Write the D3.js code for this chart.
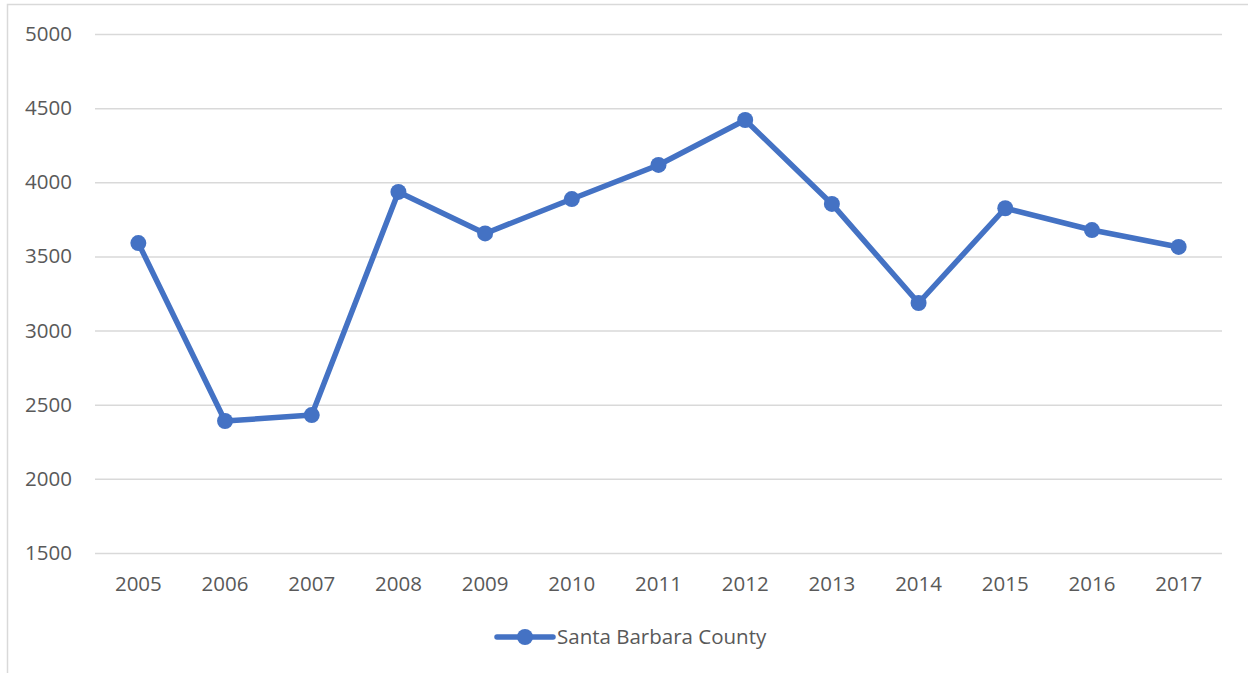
<!DOCTYPE html>
<html>
<head>
<meta charset="utf-8">
<script src="https://cdn.jsdelivr.net/npm/d3@7"></script>
<style>
  html, body { margin: 0; padding: 0; background: #fff; }
  svg { display: block; }
  svg text { font-family: "Open Sans", "Noto Sans", sans-serif; }
</style>
</head>
<body>
<svg id="chart" width="1248" height="673"></svg>
<script>
const years = ["2005","2006","2007","2008","2009","2010","2011","2012","2013","2014","2015","2016","2017"];
const values = [3590, 2390, 2430, 3935, 3655, 3887, 4117, 4420, 3854, 3186, 3825, 3678, 3564];
const yTicks = [1500, 2000, 2500, 3000, 3500, 4000, 4500, 5000];
const seriesName = "Santa Barbara County";

(function () {
const svg = d3.select("#chart");
const color = "#4472C4";
const fontFam = '"Open Sans", "Noto Sans", sans-serif';
const fs = "20.5px";
const mLeft = 95, mRight = 1222, mTop = 34, mBottom = 553;

// outer chart border
svg.append("rect")
  .attr("x", 7.5).attr("y", 4.5)
  .attr("width", 1260).attr("height", 700)
  .attr("fill", "none").attr("stroke", "#d9d9d9").attr("stroke-width", 1.5);

const x = d3.scaleBand().domain(years).range([mLeft, mRight]);
const y = d3.scaleLinear().domain([1500, 5000]).range([mBottom, mTop]);

// gridlines + y labels
const yAxis = d3.axisLeft(y).tickValues(yTicks).tickSize(-(mRight - mLeft)).tickPadding(23).tickFormat(d3.format("d"));
const gy = svg.append("g").attr("transform", `translate(${mLeft},0)`).call(yAxis);
gy.attr("font-family", fontFam);
gy.select(".domain").remove();
gy.selectAll(".tick line").attr("stroke", "#d9d9d9").attr("stroke-width", 1.5);
gy.selectAll(".tick text").attr("fill", "#595959").style("font-size", fs).style("font-family", fontFam);

// x labels
const xAxis = d3.axisBottom(x).tickSize(0).tickPadding(23);
const gx = svg.append("g").attr("transform", `translate(0,${mBottom})`).call(xAxis);
gx.attr("font-family", fontFam);
gx.select(".domain").remove();
gx.selectAll(".tick text").attr("fill", "#595959").style("font-size", fs).style("font-family", fontFam);

// line
const line = d3.line().x((d, i) => x(years[i]) + x.bandwidth() / 2).y(d => y(d));
svg.append("path").datum(values)
  .attr("d", line).attr("fill", "none")
  .attr("stroke", color).attr("stroke-width", 5.5).attr("stroke-linejoin", "round");

svg.append("g").selectAll("circle").data(values).join("circle")
  .attr("cx", (d, i) => x(years[i]) + x.bandwidth() / 2)
  .attr("cy", d => y(d))
  .attr("r", 8).attr("fill", color);

// legend
const lg = svg.append("g").attr("transform", "translate(497,637)");
lg.append("line").attr("x1", 0).attr("x2", 56).attr("y1", 0).attr("y2", 0)
  .attr("stroke", color).attr("stroke-width", 5.5).attr("stroke-linecap", "round");
lg.append("circle").attr("cx", 28).attr("cy", 0).attr("r", 8).attr("fill", color);
lg.append("text").attr("x", 60).attr("y", 0).attr("dy", "0.35em")
  .attr("fill", "#595959").style("font-size", fs).style("font-family", fontFam).text(seriesName);
})();
</script>
</body>
</html>
